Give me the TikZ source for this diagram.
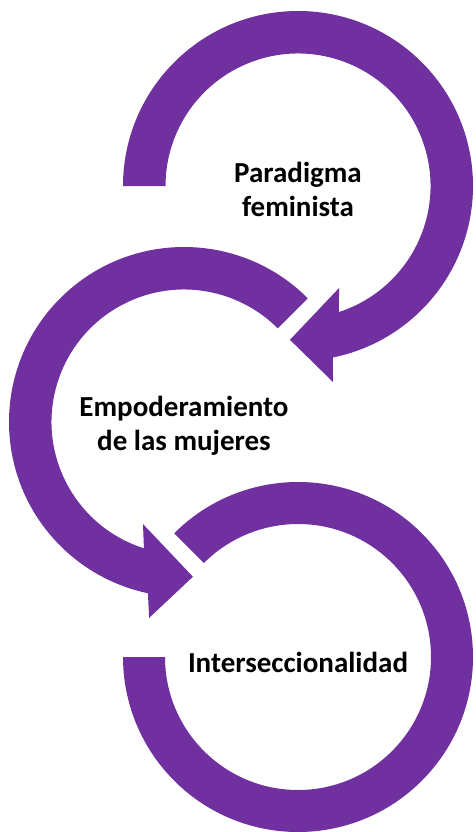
\documentclass[tikz,border=0pt]{standalone}
\usepackage{fontspec}
\setmainfont{Carlito}
\definecolor{ringpurple}{RGB}{112,48,160}
\tikzset{
  ring/.style={fill=ringpurple},
  ringlabel/.style={font=\fontsize{29}{34}\selectfont\bfseries,align=center,text=black}
}
\begin{document}
\begin{tikzpicture}[x=1pt,y=1pt]
  \useasboundingbox (0,0) rectangle (475,-832);
  \coordinate (c1) at (298,-186);
  \coordinate (c2) at (184,-422);
  \coordinate (c3) at (298,-657);
  \begin{scope}[shift={(c1)}]
    \fill [ring] (180:175) arc[start angle=180,end angle=-78.5,radius=175] -- (-79.9:199) -- (-93:154)
      -- (-68.1:110) -- (-72:132.5) arc[start angle=-72,end angle=180,radius=132.5] -- cycle;
  \end{scope}
  \begin{scope}[shift={(c2)}]
    \fill [ring] (45:175) arc[start angle=45,end angle=258.1,radius=175] -- (259.9:199) -- (273.3:155)
      -- (248.1:110) -- (252.4:132.5) arc[start angle=252.4,end angle=45,radius=132.5] -- cycle;
  \end{scope}
  \begin{scope}[shift={(c3)}]
    \fill [ring] (135:175) arc[start angle=135,end angle=-180,radius=175] -- (-180:133)
      arc[start angle=-180,end angle=135,radius=133] -- cycle;
  \end{scope}
  \node [ringlabel] (paradigma) at (298,-189) {Paradigma\\feminista};
  \node [ringlabel] (empoderamiento) at (184,-426) {Empoderamiento\\de las mujeres};
  \node [ringlabel] (interseccionalidad) at (298,-662) {Interseccionalidad};
\end{tikzpicture}
\end{document}
